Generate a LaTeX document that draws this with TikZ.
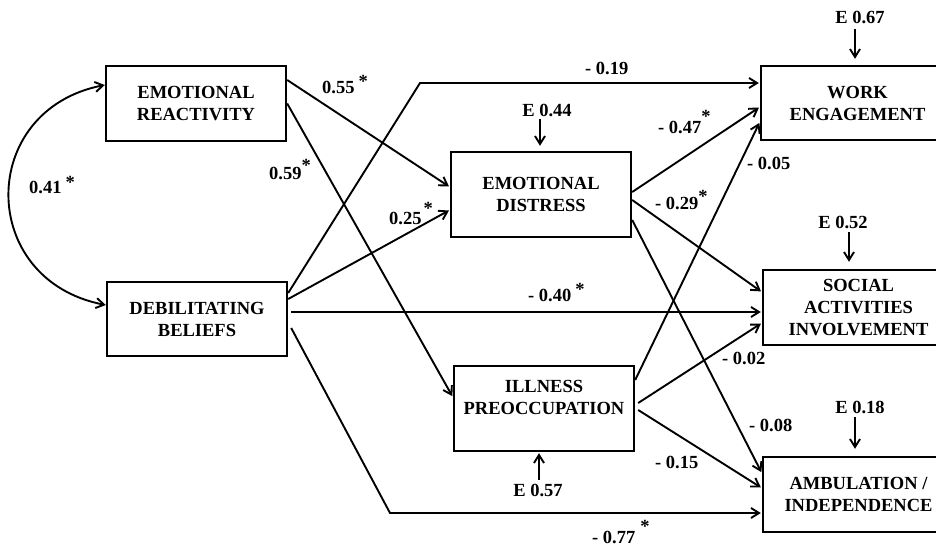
\documentclass[tikz,border=0pt]{standalone}
\usepackage{fontspec}
\setmainfont{Liberation Serif}
\usetikzlibrary{arrows.meta}
\newcommand\sig[1][6pt]{\raisebox{#1}{*}}
\begin{document}
\begin{tikzpicture}[x=1pt,y=-1pt,
  font=\fontsize{18.5}{22}\selectfont\bfseries,
  box/.style={draw, line width=2.4pt, align=center, inner sep=0pt},
  tip/.tip={Straight Barb[length=8pt,width=10pt]},
  arr/.style={line width=1.9pt, -tip, shorten >=1pt},
  lab/.style={anchor=base west, inner sep=0pt},
  elab/.style={inner sep=1pt}]
\clip (0,0) rectangle (936,546);
% boxes
\node[box, minimum width=180pt, minimum height=75pt] (ER) at (196,103.5) {EMOTIONAL\\REACTIVITY};
\node[box, minimum width=180pt, minimum height=74pt] (DB) at (197,319) {DEBILITATING\\BELIEFS};
\node[box, minimum width=180pt, minimum height=85pt] (ED) at (541,194.5) {EMOTIONAL\\DISTRESS};
\node[box, minimum width=180pt, minimum height=85pt] (IP) at (544,408.5) {ILLNESS\\PREOCCUPATION\\\mbox{}};
\node[box, minimum width=193pt, minimum height=74pt] (WE) at (857.5,103) {WORK\\ENGAGEMENT};
\node[box, minimum width=191pt, minimum height=75pt] (SAI) at (858.5,307.5) {SOCIAL\\ACTIVITIES\\INVOLVEMENT};
\node[box, minimum width=191pt, minimum height=75pt] (AI) at (858.5,494.5) {AMBULATION /\\INDEPENDENCE};
% correlation
\draw[line width=1.9pt, tip-tip] ([yshift=18.5pt]ER.west) .. controls (-23,110) and (-23,280) .. ([yshift=14pt]DB.west);
% paths
\draw[arr] ([yshift=23.5pt]ER.east) -- ([yshift=7.5pt]ED.west);
\draw[arr] (ER.east) -- ([yshift=11.5pt]IP.west);
\coordinate (c1) at (420,83);
\draw[arr] ([yshift=26pt]DB.east) -- (c1) -- (c1 -| WE.west);
\draw[arr] ([yshift=20pt]DB.east) -- ([yshift=-15.5pt]ED.west);
\draw[arr] ([xshift=3pt,yshift=7pt]DB.east) -- ([yshift=-4.5pt]SAI.west);
\coordinate (c2) at (390,513);
\draw[arr] ([xshift=3pt,yshift=-9pt]DB.east) -- (c2) -- (c2 -| AI.west);
\draw[arr] ([yshift=2.5pt]ED.east) -- ([yshift=-4pt]WE.west);
\draw[arr] ([yshift=-5.5pt]ED.east) -- ([yshift=15.5pt]SAI.west);
\draw[arr] ([yshift=-25.5pt]ED.east) -- ([yshift=21.5pt]AI.west);
\draw[arr] ([yshift=28.5pt]IP.east) -- ([yshift=-19pt]WE.west);
\draw[arr] ([xshift=3pt,yshift=5.5pt]IP.east) -- ([yshift=-15.5pt]SAI.west);
\draw[arr] ([xshift=3pt,yshift=-1.5pt]IP.east) -- ([yshift=6.5pt]AI.west);
% coefficient labels
\node[lab] (l1) at (322,93.5) {0.55\hspace{4pt}\sig[6pt]};
\node[lab] (l2) at (269,179.5) {0.59\sig[8pt]};
\node[lab] (l3) at (29,193.5) {0.41\hspace{4pt}\sig[5pt]};
\node[lab] (l4) at (389,224.5) {0.25\hspace{2pt}\sig[10pt]};
\node[lab] (l5) at (585,74.5) {- 0.19};
\node[lab] (l6) at (528,301.5) {- 0.40\hspace{4pt}\sig[6pt]};
\node[lab] (l7) at (592,543.5) {- 0.77\hspace{5pt}\sig[11pt]};
\node[lab] (l8) at (658,133.5) {- 0.47\sig[11pt]};
\node[lab] (l9) at (655,209.5) {- 0.29\sig[7pt]};
\node[lab] (l10) at (747,169.5) {- 0.05};
\node[lab] (l11) at (722,364.5) {- 0.02};
\node[lab] (l12) at (749,431.5) {- 0.08};
\node[lab] (l13) at (655,468.5) {- 0.15};
% error terms
\node[elab] (e67) at (860,17) {E 0.67};
\node[elab] (e44) at (547,110) {E 0.44};
\node[elab] (e52) at (843,222) {E 0.52};
\node[elab] (e18) at (860,407) {E 0.18};
\node[elab] (e57) at (538,490) {E 0.57};
\coordinate (a67) at ([xshift=-5pt]e67.south);
\coordinate (a44) at ([xshift=-7pt]e44.south);
\coordinate (a52) at ([xshift=6pt]e52.south);
\coordinate (a18) at ([xshift=-5pt]e18.south);
\coordinate (a57) at ([xshift=1pt]e57.north);
\draw[arr, shorten <=5pt, shorten >=6pt] (a67) -- (a67 |- WE.north);
\draw[arr, shorten <=2pt, shorten >=5pt] (a44) -- (a44 |- ED.north);
\draw[arr, shorten <=3pt, shorten >=7pt] (a52) -- (a52 |- SAI.north);
\draw[arr, shorten <=3pt, shorten >=7pt] (a18) -- (a18 |- AI.north);
\draw[arr, shorten <=3pt] (a57) -- (a57 |- IP.south);
\end{tikzpicture}
\end{document}
